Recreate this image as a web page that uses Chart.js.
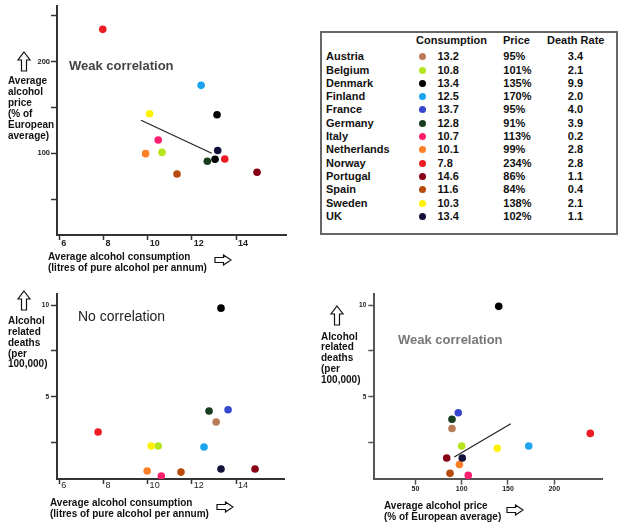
<!DOCTYPE html>
<html>
<head>
<meta charset="utf-8">
<script src="https://cdn.jsdelivr.net/npm/chart.js@4.4.1/dist/chart.umd.min.js"></script>
<style>
  body { margin: 0; width: 640px; height: 524px; background: #fff; position: relative; overflow: hidden;
         font-family: "Liberation Sans", Arial, sans-serif; }
  canvas, .t, svg, #table { position: absolute; }
  .t { white-space: nowrap; color: #111; font-weight: bold; font-size: 10px; line-height: 11px; }
  .big { font-size: 13px; line-height: 16px; }
  #table { left: 320px; top: 31px; width: 298px; height: 204px; box-sizing: border-box; border: 2px solid #666; }
  .cell { position: absolute; white-space: nowrap; font-weight: bold; font-size: 11px; line-height: 13px; color: #111; }
  .dot { position: absolute; width: 7px; height: 7px; border-radius: 50%; }
</style>
</head>
<body>

<canvas id="c1" width="300" height="262" style="left:0;top:0"></canvas>
<canvas id="c2" width="300" height="244" style="left:0;top:280px"></canvas>
<canvas id="c3" width="320" height="244" style="left:310px;top:280px"></canvas>

<!-- top left: consumption vs price -->
<div class="t big" style="left:69px;top:58px;color:#444">Weak correlation</div>
<svg style="left:17px;top:51px" width="14" height="21"><polygon points="7,1 13,9 9.5,9 9.5,20 4.5,20 4.5,9 1,9" fill="#fff" stroke="#111" stroke-width="1.2"/></svg>
<div class="t" style="left:8px;top:74.5px">Average<br>alcohol<br>price<br>(% of<br>European<br>average)</div>
<div class="t" style="left:48px;top:250.5px">Average alcohol consumption<br>(litres of pure alcohol per annum)</div>
<svg style="left:214px;top:254px" width="18" height="12"><polygon points="1,3.5 9.5,3.5 9.5,1 17,6 9.5,11 9.5,8.5 1,8.5" fill="#fff" stroke="#111" stroke-width="1.2"/></svg>

<!-- bottom left: consumption vs deaths -->
<div class="t big" style="left:78px;top:308px;color:#222;font-weight:normal;font-size:14px">No correlation</div>
<svg style="left:17px;top:290px" width="14" height="21"><polygon points="7,1 13,9 9.5,9 9.5,20 4.5,20 4.5,9 1,9" fill="#fff" stroke="#111" stroke-width="1.2"/></svg>
<div class="t" style="left:8px;top:316.3px;line-height:10.8px">Alcohol<br>related<br>deaths<br>(per<br>100,000)</div>
<div class="t" style="left:50px;top:496.8px">Average alcohol consumption<br>(litres of pure alcohol per annum)</div>
<svg style="left:216px;top:501px" width="18" height="12"><polygon points="1,3.5 9.5,3.5 9.5,1 17,6 9.5,11 9.5,8.5 1,8.5" fill="#fff" stroke="#111" stroke-width="1.2"/></svg>

<!-- bottom right: price vs deaths -->
<div class="t big" style="left:398px;top:332px;color:#777">Weak correlation</div>
<svg style="left:330px;top:305px" width="14" height="21"><polygon points="7,1 13,9 9.5,9 9.5,20 4.5,20 4.5,9 1,9" fill="#fff" stroke="#111" stroke-width="1.2"/></svg>
<div class="t" style="left:321px;top:331.6px;line-height:10.8px">Alcohol<br>related<br>deaths<br>(per<br>100,000)</div>
<div class="t" style="left:384px;top:499.8px">Average alcohol price<br>(% of European average)</div>
<svg style="left:506px;top:504px" width="18" height="12"><polygon points="1,3.5 9.5,3.5 9.5,1 17,6 9.5,11 9.5,8.5 1,8.5" fill="#fff" stroke="#111" stroke-width="1.2"/></svg>

<div id="table"></div>

<script>
// table data
const countries = ["Austria", "Belgium", "Denmark", "Finland", "France", "Germany", "Italy",
  "Netherlands", "Norway", "Portugal", "Spain", "Sweden", "UK"];
const colors = ["#b97a57", "#b5e61d", "#000000", "#1ea3f0", "#3747d0", "#173d1e", "#ff1f6e",
  "#ff7f27", "#ed1c24", "#880015", "#b94a0d", "#fff200", "#12123a"];
const consumption = [13.2, 10.8, 13.4, 12.5, 13.7, 12.8, 10.7, 10.1, 7.8, 14.6, 11.6, 10.3, 13.4];
const price = [95, 101, 135, 170, 95, 91, 113, 99, 234, 86, 84, 138, 102];
const deathRate = [3.4, 2.1, 9.9, 2.0, 4.0, 3.9, 0.2, 2.8, 2.8, 1.1, 0.4, 2.1, 1.1];

// dots as placed in the three plots (same country order)
const plot1Cons = [13.05, 10.65, 13.14, 12.42, 13.49, 12.7, 10.48, 9.91, 7.97, 14.95, 11.33, 10.09, 13.17];
const plot1Price = [93.5, 101, 142, 174, 93.8, 91.3, 114.5, 99.6, 235, 79.3, 77.5, 143, 103];
const plot1Colors = ["#000000", "#b5e61d", "#000000", "#1ea3f0", "#ed1c24", "#173d1e", "#ff1f6e",
  "#ff7f27", "#ed1c24", "#880015", "#b94a0d", "#fff200", "#12123a"];

const plot2Cons = [13.1, 10.48, 13.32, 12.55, 13.64, 12.78, 10.62, 9.98, 7.76, 14.86, 11.51, 10.16, 13.32];
const plot2Deaths = [3.62, 2.31, 9.83, 2.26, 4.29, 4.22, 0.68, 0.95, 3.08, 1.06, 0.89, 2.31, 1.06];

const plot3Price = [89.5, 100, 140, 172.4, 96.3, 89.5, 107.1, 97.5, 238.9, 83.8, 87.4, 138.4, 100.6];
const plot3Deaths = [3.27, 2.31, 9.93, 2.31, 4.13, 3.77, 0.71, 1.3, 3.0, 1.66, 0.82, 2.19, 1.66];

// trend lines
const trend1Cons = [9.7, 12.9];
const trend1Price = [136, 100];
const trend3Price = [92, 153];
const trend3Deaths = [1.71, 3.53];

// tick values and labels
const consTicks = [6, 8, 10, 12, 14];
const consTickLabels = ["6", "8", "10", "12", "14"];
const priceTicks = [50, 100, 150, 200, 250];
const priceTickLabels = ["", "100", "", "200", ""];
const priceAxisTicks = [50, 100, 150, 200];
const priceAxisLabels = ["50", "100", "150", "200"];
const deathTicks = [2.5, 5, 7.5, 10];
const deathTickLabels = ["", "5", "", "10"];

Chart.defaults.font.family = '"Liberation Sans", Arial, sans-serif';
Chart.defaults.animation = false;

function axis(o) {
  return {
    type: "linear",
    min: o.min,
    max: o.max,
    afterBuildTicks: s => { s.ticks = o.ticks.map(v => ({ value: v })); },
    afterFit: s => { if (o.w !== undefined) s.width = o.w; if (o.h !== undefined) s.height = o.h; },
    ticks: {
      autoSkip: false,
      maxRotation: 0,
      callback: (v, i) => o.labels[i],
      align: o.align || "center",
      labelOffset: o.labelOffset || 0,
      padding: o.padding,
      color: "#222",
      font: { size: o.size, weight: o.weight || "bold" }
    },
    grid: { drawOnChartArea: false, tickLength: o.tick || 5, tickColor: o.line, tickWidth: 1.5 },
    border: { color: o.line, width: 2 }
  };
}

function dots(xs, ys, cols) {
  return {
    data: xs.map((x, i) => ({ x: x, y: ys[i] })),
    backgroundColor: cols,
    borderWidth: 0,
    pointRadius: 3.8,
    pointHoverRadius: 3.8
  };
}

function trend(xs, ys) {
  return {
    data: xs.map((x, i) => ({ x: x, y: ys[i] })),
    showLine: true,
    borderColor: "#222",
    borderWidth: 1.2,
    pointRadius: 0
  };
}

function scatter(id, datasets, x, y, padding) {
  new Chart(document.getElementById(id), {
    type: "scatter",
    data: { datasets: datasets },
    options: {
      responsive: false,
      layout: { autoPadding: false, padding: padding },
      plugins: { legend: { display: false }, tooltip: { enabled: false } },
      scales: { x: x, y: y }
    }
  });
}

scatter("c1",
  [dots(plot1Cons, plot1Price, plot1Colors), trend(trend1Cons, trend1Price)],
  axis({ min: 5.9, max: 16.26, ticks: consTicks, labels: consTickLabels, h: 27, align: "start",
         labelOffset: 2, padding: -2, size: 9, line: "#333" }),
  axis({ min: 11, max: 261, ticks: priceTicks, labels: priceTickLabels, w: 57, padding: 1,
         size: 7.5, tick: 6, line: "#333" }),
  { top: 5, right: 14, left: 0, bottom: 0 });

scatter("c2",
  [dots(plot2Cons, plot2Deaths, colors)],
  axis({ min: 5.9, max: 16.17, ticks: consTicks, labels: consTickLabels, h: 45, align: "start",
         labelOffset: 2, padding: -3.4, size: 9, weight: "normal", line: "#333" }),
  axis({ min: 0.513, max: 10.63, ticks: deathTicks, labels: deathTickLabels, w: 57, padding: 2,
         size: 6.5, tick: 6, line: "#333" }),
  { top: 13.5, right: 16, left: 0, bottom: 0 });

scatter("c3",
  [dots(plot3Price, plot3Deaths, colors), trend(trend3Price, trend3Deaths)],
  axis({ min: 5.6, max: 252.3, ticks: priceAxisTicks, labels: priceAxisLabels, h: 45, padding: 0.4,
         size: 7, tick: 5.7, line: "#555" }),
  axis({ min: 0.513, max: 10.63, ticks: deathTicks, labels: deathTickLabels, w: 64.3, padding: 2,
         size: 6.5, tick: 6, line: "#555" }),
  { top: 13.5, right: 27.3, left: 0, bottom: 0 });

// legend table (positions relative to the table box, which starts at 320,31 inside a 2px border)
const table = document.getElementById("table");
function cell(text, left, top, center) {
  const d = document.createElement("div");
  d.className = "cell";
  d.textContent = text;
  d.style.left = left + "px";
  d.style.top = top + "px";
  if (center) { d.style.transform = "translateX(-50%)"; }
  table.appendChild(d);
}
const ox = 322, oy = 33;
cell("Consumption", 416 - ox, 33.5 - oy);
cell("Price", 503 - ox, 33.5 - oy);
cell("Death Rate", 547 - ox, 33.5 - oy);
countries.forEach((c, i) => {
  const cy = 56.7 + i * 13.3;
  cell(c, 326 - ox, cy - 6.5 - oy);
  const d = document.createElement("div");
  d.className = "dot";
  d.style.background = colors[i];
  d.style.left = (422.7 - 3.5 - ox) + "px";
  d.style.top = (cy - 3.5 - oy) + "px";
  table.appendChild(d);
  cell(consumption[i].toFixed(1), 437.5 - ox, cy - 6.5 - oy);
  cell(price[i] + "%", 503.3 - ox, cy - 6.5 - oy);
  cell(deathRate[i].toFixed(1), 575.5 - ox, cy - 6.5 - oy, true);
});
</script>
</body>
</html>
